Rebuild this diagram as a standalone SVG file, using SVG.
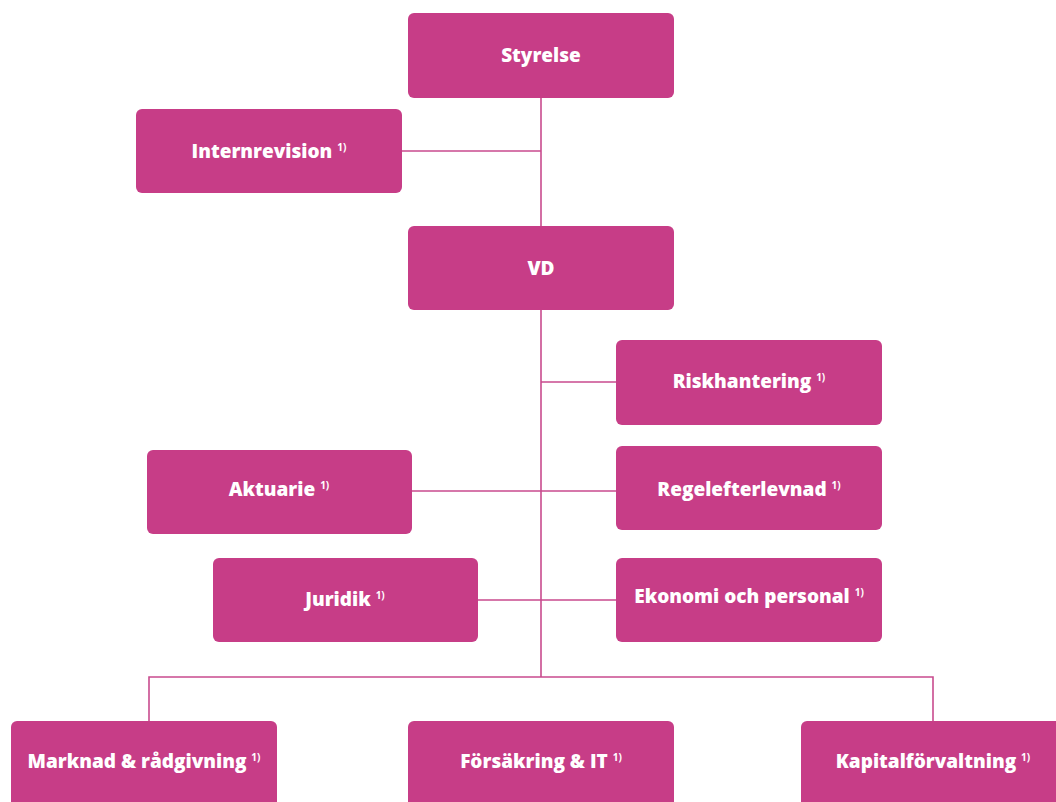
<svg xmlns="http://www.w3.org/2000/svg" width="1056" height="802" viewBox="0 0 1056 802">
<style>
.box{fill:#C73D87;}
.t{font-family:"Open Sans",Lato,"Liberation Sans",sans-serif;font-weight:800;font-size:19px;fill:#ffffff;text-anchor:middle;}
.s{font-size:10px;font-weight:700;}
.c{stroke:#C94B8E;stroke-width:1.6;fill:none;}
</style>
<rect width="1056" height="802" fill="#ffffff"/>
<g id="connectors">
<path class="c" d="M541 98V677M402 151H541M541 382H616M412 491H616M478 600H616M149 721V677H933V721"/>
</g>
<g id="styrelse"><rect class="box" x="408" y="13" width="266" height="85" rx="6"/><text class="t" x="541" y="62">Styrelse</text></g>
<g id="internrevision"><rect class="box" x="136" y="109" width="266" height="84" rx="6"/><text class="t" x="269" y="158">Internrevision <tspan class="s" dy="-7">1)</tspan></text></g>
<g id="vd"><rect class="box" x="408" y="226" width="266" height="84" rx="6"/><text class="t" x="541" y="275">VD</text></g>
<g id="riskhantering"><rect class="box" x="616" y="340" width="266" height="85" rx="6"/><text class="t" x="749" y="388">Riskhantering <tspan class="s" dy="-7">1)</tspan></text></g>
<g id="aktuarie"><rect class="box" x="147" y="450" width="265" height="84" rx="6"/><text class="t" x="279" y="496">Aktuarie <tspan class="s" dy="-7">1)</tspan></text></g>
<g id="regelefterlevnad"><rect class="box" x="616" y="446" width="266" height="84" rx="6"/><text class="t" x="749" y="496">Regelefterlevnad <tspan class="s" dy="-7">1)</tspan></text></g>
<g id="juridik"><rect class="box" x="213" y="558" width="265" height="84" rx="6"/><text class="t" x="345" y="606">Juridik <tspan class="s" dy="-7">1)</tspan></text></g>
<g id="ekonomi"><rect class="box" x="616" y="558" width="266" height="84" rx="6"/><text class="t" x="749" y="603">Ekonomi och personal <tspan class="s" dy="-7">1)</tspan></text></g>
<g id="marknad"><rect class="box" x="11" y="721" width="266" height="95" rx="6"/><text class="t" x="144" y="768">Marknad &amp; rådgivning <tspan class="s" dy="-7">1)</tspan></text></g>
<g id="forsakring"><rect class="box" x="408" y="721" width="266" height="95" rx="6"/><text class="t" x="541" y="768">Försäkring &amp; IT <tspan class="s" dy="-7">1)</tspan></text></g>
<g id="kapital"><rect class="box" x="801" y="721" width="266" height="95" rx="6"/><text class="t" x="933" y="768">Kapitalförvaltning <tspan class="s" dy="-7">1)</tspan></text></g>
</svg>
